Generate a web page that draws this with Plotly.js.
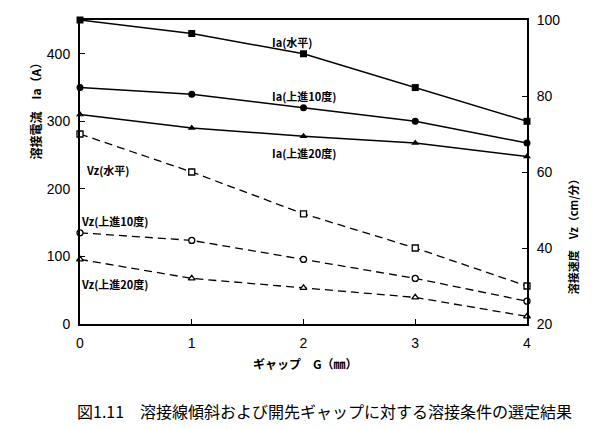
<!DOCTYPE html>
<html>
<head>
<meta charset="utf-8">
<script src="https://cdn.plot.ly/plotly-3.0.1.min.js"></script>
<style>html,body{margin:0;padding:0;background:#fff;}#chart{width:600px;height:429px;}</style>
</head>
<body>
<div id="chart"></div>
<script>
// Gap G (mm)
const gap = [0, 1, 2, 3, 4];
// Welding current Ia (A), left axis
const iaHorizontal = [450, 430, 400, 350, 300];
const iaUp10 = [350, 340, 320, 300, 268];
const iaUp20 = [310, 290, 278, 268, 248];
// Welding speed Vz (cm/min), right axis
const vzHorizontal = [70, 60, 49, 40, 30];
const vzUp10 = [44, 42, 37, 32, 26];
const vzUp20 = [37, 32, 29.5, 27, 22];

const seriesNames = ['Ia(水平)', 'Ia(上進10度)', 'Ia(上進20度)', 'Vz(水平)', 'Vz(上進10度)', 'Vz(上進20度)'];
const xTicks = [0, 1, 2, 3, 4];
const yLeftTicks = [0, 100, 200, 300, 400];
const yRightTicks = [20, 40, 60, 80, 100];

const F = 'Liberation Sans, Arial, Noto Sans CJK JP, sans-serif';
const FJ = 'Noto Sans CJK JP, Liberation Sans, sans-serif';

function ia(y, sym, name) {
  return {x: gap, y: y, name: name, type: 'scatter', mode: 'lines+markers', yaxis: 'y',
    cliponaxis: false,
    line: {color: '#000', width: 1.5},
    marker: {symbol: sym, size: 7, color: '#000'}};
}
function vz(y, sym, name) {
  return {x: gap, y: y, name: name, type: 'scatter', mode: 'lines+markers', yaxis: 'y2',
    cliponaxis: false,
    line: {color: '#000', width: 1.3, dash: '8px,5px'},
    marker: {symbol: sym, size: 6, color: '#fff', line: {color: '#000', width: 1.3}}};
}

const data = [
  ia(iaHorizontal, 'square', seriesNames[0]),
  ia(iaUp10, 'circle', seriesNames[1]),
  ia(iaUp20, 'triangle-up', seriesNames[2]),
  vz(vzHorizontal, 'square', seriesNames[3]),
  vz(vzUp10, 'circle', seriesNames[4]),
  vz(vzUp20, 'triangle-up', seriesNames[5])
];

const lbl = (text, x, y) => ({text: text, x: x, y: y, xref: 'x', yref: 'y', showarrow: false,
  xanchor: 'center', yanchor: 'middle',
  font: {family: FJ, size: 11, color: '#000', weight: 600}});

const layout = {
  width: 600, height: 429,
  margin: {l: 80, r: 73, t: 20, b: 105},
  paper_bgcolor: '#fff', plot_bgcolor: '#fff',
  showlegend: false,
  font: {family: F, color: '#000', size: 14},
  xaxis: {range: [0, 4], tickvals: xTicks, ticktext: xTicks.map(String),
    showline: true, linecolor: '#000', linewidth: 2, mirror: true,
    ticks: 'inside', ticklen: 5, tickcolor: '#000', showgrid: false, zeroline: false,
    ticklabelstandoff: 5,
    tickfont: {family: F, size: 14}},
  yaxis: {range: [0, 450], tickvals: yLeftTicks, ticktext: yLeftTicks.map(String),
    showline: true, linecolor: '#000', linewidth: 2,
    ticks: 'inside', ticklen: 5, tickcolor: '#000', showgrid: false, zeroline: false,
    ticklabelstandoff: 5,
    tickfont: {family: F, size: 14}},
  yaxis2: {range: [20, 100], tickvals: yRightTicks, ticktext: yRightTicks.map(String),
    overlaying: 'y', side: 'right',
    showline: true, linecolor: '#000', linewidth: 2,
    ticks: 'inside', ticklen: 5, tickcolor: '#000', showgrid: false, zeroline: false,
    ticklabelstandoff: 5,
    tickfont: {family: F, size: 14}},
  annotations: [
    lbl(seriesNames[0], 1.9, 417),
    lbl(seriesNames[1], 2.0, 337),
    lbl(seriesNames[2], 2.0, 253),
    lbl(seriesNames[3], 0.25, 228),
    lbl(seriesNames[4], 0.31, 152),
    lbl(seriesNames[5], 0.31, 59),
    {text: '溶接電流　Ia（A）', xref: 'paper', yref: 'paper', x: -0.1, y: 0.71,
      xanchor: 'center', yanchor: 'middle',
      textangle: -90, showarrow: false, font: {family: FJ, size: 12, color: '#000', weight: 600}},
    {text: '溶接速度　Vz（cm/分）', xref: 'paper', yref: 'paper', x: 1.103, y: 0.295,
      xanchor: 'center', yanchor: 'middle',
      textangle: -90, showarrow: false, font: {family: FJ, size: 11, color: '#000', weight: 600}},
    {text: 'ギャップ　G（㎜）', xref: 'paper', yref: 'paper', x: 0.505, y: -0.13,
      xanchor: 'center', yanchor: 'middle',
      showarrow: false, font: {family: FJ, size: 12, color: '#000', weight: 600}},
    {text: '図1.11　溶接線傾斜および開先ギャップに対する溶接条件の選定結果', xref: 'paper', yref: 'paper',
      x: 0.548, y: -0.285, xanchor: 'center', yanchor: 'middle',
      showarrow: false, font: {family: FJ, size: 16, color: '#000'}}
  ]
};

Plotly.newPlot('chart', data, layout, {displayModeBar: false, staticPlot: true});
</script>
</body>
</html>
